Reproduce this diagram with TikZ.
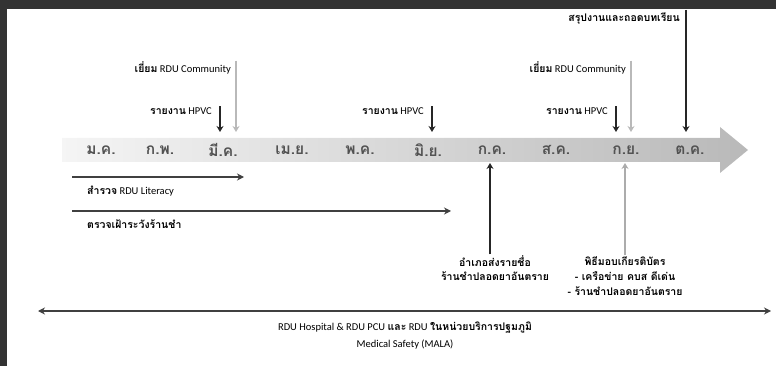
\documentclass[tikz,border=0pt]{standalone}
\usepackage{fontspec}
\setmainfont{Carlito}
\newfontfamily\thaifont[Script=Thai]{Loma}
\usetikzlibrary{positioning, arrows.meta}
\newcommand{\tx}[1]{{\thaifont\bfseries #1}}

\begin{document}
\begin{tikzpicture}[x=1pt, y=-1pt, font=\fontsize{10.5}{12}\selectfont,
    month/.style={font=\fontsize{15.5}{18}\selectfont, text=black!68},
    lbl/.style={inner sep=1pt, text=black},
    hpvc/.style={-{Stealth[length=6pt, width=7pt]}, line width=1.6pt, black!85},
    visit/.style={-{Stealth[length=6pt, width=7pt]}, line width=2pt, gray!55},
    span/.style={-{Stealth[length=7pt, width=7pt]}, line width=1.2pt, black!75}]
    \useasboundingbox (0,0) rectangle (776,366);
    \fill[black!80] (0,0) rectangle (776,9);
    \fill[black!80] (0,0) rectangle (7,366);
    % timeline band
    \shade[left color=gray!8, right color=gray!55] (62,138) -- (720,138) -- (720,127) -- (748,150)
      -- (720,173) -- (720,162) -- (62,162) -- cycle;
    \foreach \i/\m/\x in {1/ม.ค./101, 2/ก.พ./160, 3/มี.ค./223, 4/เม.ย./292, 5/พ.ค./360,
      6/มิ.ย./428, 7/ก.ค./492, 8/ส.ค./556, 9/ก.ย./626, 10/ต.ค./690} {
      \node[month] (m\i) at (\x,150) {\tx{\m}};
    }
    % reports from above
    \foreach \n/\x in {3/220, 6/432, 9/616} {
      \coordinate (t\n) at (\x,132);
      \node[lbl, anchor=east] (hpvc\n) at (\x-7,111) {\tx{รายงาน} HPVC};
      \draw[hpvc] (t\n |- hpvc\n.north) -- (t\n);
    }
    \foreach \n/\x in {3/236, 9/631} {
      \coordinate (v\n) at (\x,132);
      \node[lbl, anchor=east] (visit\n) at (\x-4,68) {\tx{เยี่ยม} RDU Community};
      \draw[visit] (v\n |- visit\n.north) -- (v\n);
    }
    \coordinate (t10) at (686,132);
    \coordinate (top10) at (686,10);
    \node[lbl, anchor=east] (summary) at (681,18) {\tx{สรุปงานและถอดบทเรียน}};
    \draw[hpvc] (top10) -- (t10);
    % ongoing work
    \coordinate (lit0) at (72,177);
    \coordinate (lit1) at (244,177);
    \draw[span] (lit0) -- (lit1);
    \node[lbl, anchor=west] (literacy) at (86,191) {\tx{สำรวจ} RDU Literacy};
    \coordinate (shop0) at (72,211);
    \coordinate (shop1) at (451,211);
    \draw[span] (shop0) -- (shop1);
    \node[lbl, anchor=west] (shops) at (86,224) {\tx{ตรวจเฝ้าระวังร้านชำ}};
    % events from below
    \coordinate (b7) at (490,163);
    \node[lbl, align=center] (notify) at (495,268) {\tx{อำเภอส่งรายชื่อ}\\[2pt] \tx{ร้านชำปลอดยาอันตราย}};
    \draw[hpvc] (notify.north -| b7) -- (b7);
    \coordinate (b9) at (625,163);
    \node[lbl, align=center] (award) at (625,276) {\tx{พิธีมอบเกียรติบัตร}\\[3pt] \tx{- เครือข่าย คบส ดีเด่น}\\[3pt] \tx{- ร้านชำปลอดยาอันตราย}};
    \draw[visit, gray!65] (award.north -| b9) -- (b9);
    % whole year
    \coordinate (yr0) at (38,311);
    \coordinate (yr1) at (771,311);
    \draw[span, {Stealth[length=7pt, width=7pt]}-{Stealth[length=7pt, width=7pt]}] (yr0) -- (yr1);
    \node[lbl, align=center] (rdu) at (405,336) {RDU Hospital \& RDU PCU \tx{และ} RDU \tx{ในหน่วยบริการปฐมภูมิ}\\[5pt] Medical Safety (MALA)};
\end{tikzpicture}
\end{document}
